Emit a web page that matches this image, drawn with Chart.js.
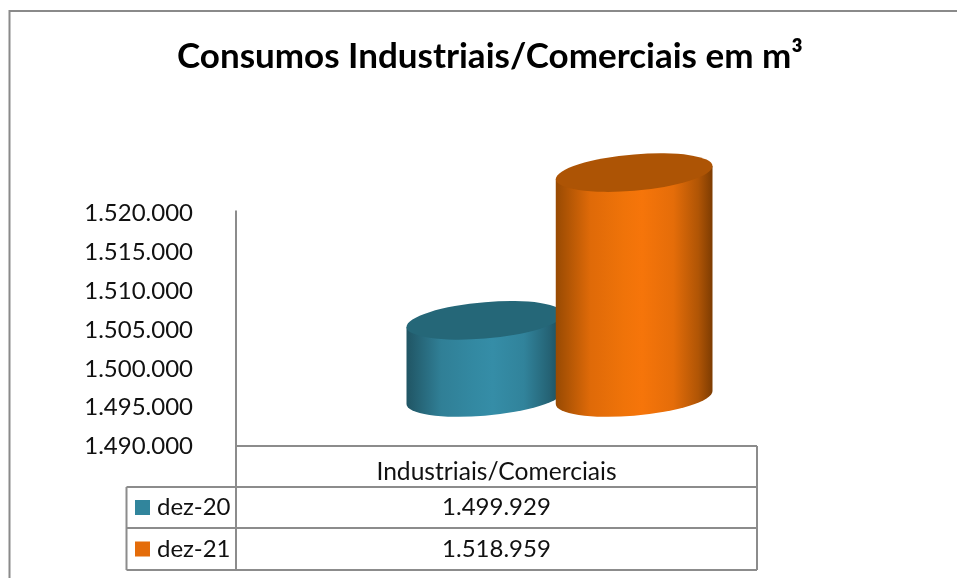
<!DOCTYPE html>
<html><head><meta charset="utf-8">
<style>html,body{margin:0;padding:0;background:#fff}canvas{display:block}</style>
<script src="https://cdn.jsdelivr.net/npm/chart.js@4"></script>
</head><body><canvas id="c" width="957" height="578"></canvas>
<script>
const titleText = 'Consumos Industriais/Comerciais em m³';
const categories = ['Industriais/Comerciais'];
const seriesNames = ['dez-20', 'dez-21'];
const dez20 = [1499929];
const dez21 = [1518959];
const axisMin = 1490000;
const axisMax = 1520000;
const axisStep = 5000;
const seriesColors = ['#31859c', '#e46c0a'];
const shadeStops = [0, 0.22, 0.43, 0.55, 0.75, 0.91, 1];
const sideShades = [
  ['#205564', '#307f96', '#3389a2', '#358da7', '#31839b', '#256375', '#1b4957'],
  ['#984a03', '#df6a08', '#ef7309', '#f6750a', '#e56d09', '#b05505', '#7d3c02']
];
const topShades = ['#256778', '#ad5405'];
const FONT = 'Lato, Carlito, Calibri, sans-serif';
const GRID = '#8c8c8c';
const fmt = v => String(v).replace(/\B(?=(\d{3})+$)/g, '.');

const depth = {dx: 63, dy: -49};
const shear = -0.083, ryRatio = 0.116;

function drawCylinder(chart, i) {
  const ctx = chart.ctx;
  const bar = chart.getDatasetMeta(i).data[0];
  const w = bar.width, rx = w / 2, ry = w * ryRatio, cx = bar.x + depth.dx;
  const yt = bar.y + depth.dy, yb = chart.scales.y.getPixelForValue(axisMin) + depth.dy;
  const l = cx - rx, r = cx + rx;
  ctx.save();
  ctx.setTransform(1, shear, 0, 1, 0, -shear * cx);
  const g = ctx.createLinearGradient(l, 0, r, 0);
  shadeStops.forEach((s, k) => g.addColorStop(s, sideShades[i][k]));
  ctx.beginPath();
  ctx.moveTo(l, yt);
  ctx.lineTo(l, yb);
  ctx.ellipse(cx, yb, rx, ry, 0, Math.PI, 0, true);
  ctx.lineTo(r, yt);
  ctx.closePath();
  ctx.fillStyle = g;
  ctx.fill();
  ctx.beginPath();
  ctx.ellipse(cx, yt, rx, ry, 0, 0, Math.PI * 2);
  ctx.fillStyle = topShades[i];
  ctx.fill();
  ctx.restore();
}

const cylinder = {
  id: 'cylinder',
  beforeDatasetsDraw(chart) {
    chart.data.datasets.forEach((d, i) => drawCylinder(chart, i));
    return false;
  }
};

const frame = {
  id: 'frame',
  beforeDraw(chart) {
    const ctx = chart.ctx;
    ctx.save();
    ctx.strokeStyle = '#8a8a8a';
    ctx.lineWidth = 2;
    ctx.beginPath();
    ctx.moveTo(9.5, 578); ctx.lineTo(9.5, 11); ctx.lineTo(957, 11);
    ctx.stroke();
    ctx.restore();
  },
  afterDraw(chart) {
    const ctx = chart.ctx, a = chart.chartArea;
    const xL = 126.5, xA = a.left, xR = a.right;
    const rows = [446, 487, 528, 570];
    ctx.save();
    ctx.strokeStyle = GRID;
    ctx.lineWidth = 2;
    ctx.beginPath();
    ctx.moveTo(xA, a.top - 3); ctx.lineTo(xA, rows[3]);
    ctx.moveTo(xA, rows[0]); ctx.lineTo(xR, rows[0]);
    ctx.moveTo(xR, rows[0]); ctx.lineTo(xR, rows[3]);
    ctx.moveTo(xL, rows[1]); ctx.lineTo(xR, rows[1]);
    ctx.moveTo(xL, rows[2]); ctx.lineTo(xR, rows[2]);
    ctx.moveTo(xL, rows[3]); ctx.lineTo(xR, rows[3]);
    ctx.moveTo(xL, rows[1]); ctx.lineTo(xL, rows[3]);
    ctx.stroke();
    ctx.textBaseline = 'middle';
    ctx.font = '24px ' + FONT;
    const vals = [dez20[0], dez21[0]];
    seriesNames.forEach((n, i) => {
      const yc = (rows[i + 1] + rows[i + 2]) / 2;
      ctx.fillStyle = seriesColors[i];
      ctx.fillRect(135, yc - 7.5, 15, 15);
      ctx.fillStyle = '#111';
      ctx.textAlign = 'left';
      ctx.fillText(n, 157, yc);
      ctx.textAlign = 'center';
      ctx.fillText(fmt(vals[i]), (xA + xR) / 2, yc);
    });
    ctx.restore();
  }
};

new Chart(document.getElementById('c'), {
  type: 'bar',
  data: {
    labels: categories,
    datasets: [
      {label: seriesNames[0], data: dez20, backgroundColor: seriesColors[0]},
      {label: seriesNames[1], data: dez21, backgroundColor: seriesColors[1]}
    ]
  },
  plugins: [frame, cylinder],
  options: {
    responsive: false,
    animation: false,
    events: [],
    categoryPercentage: 0.573,
    barPercentage: 1.05,
    layout: {padding: {left: 70, right: 47, top: 0, bottom: 81.5}},
    plugins: {
      legend: {display: false},
      tooltip: {enabled: false},
      title: {
        display: true, text: titleText, color: '#000',
        font: {family: FONT, size: 35, weight: 'bold', lineHeight: 1.2},
        padding: {top: 36, bottom: 135.5}
      }
    },
    scales: {
      x: {
        afterFit(s) { s.height = 50; },
        grid: {display: false, drawTicks: false},
        border: {display: false},
        ticks: {color: '#111', font: {family: FONT, size: 24.6}, padding: 11, maxRotation: 0}
      },
      y: {
        min: axisMin, max: axisMax,
        afterFit(s) { s.width = 166; },
        grid: {display: false, drawTicks: false},
        border: {display: false},
        ticks: {stepSize: axisStep, color: '#111', font: {family: FONT, size: 24}, padding: 43, callback: v => fmt(v)}
      },
      yRight: {
        position: 'right', display: true,
        afterFit(s) { s.width = 153; },
        grid: {display: false, drawTicks: false},
        border: {display: false},
        ticks: {display: false}
      }
    }
  }
});
</script></body></html>
